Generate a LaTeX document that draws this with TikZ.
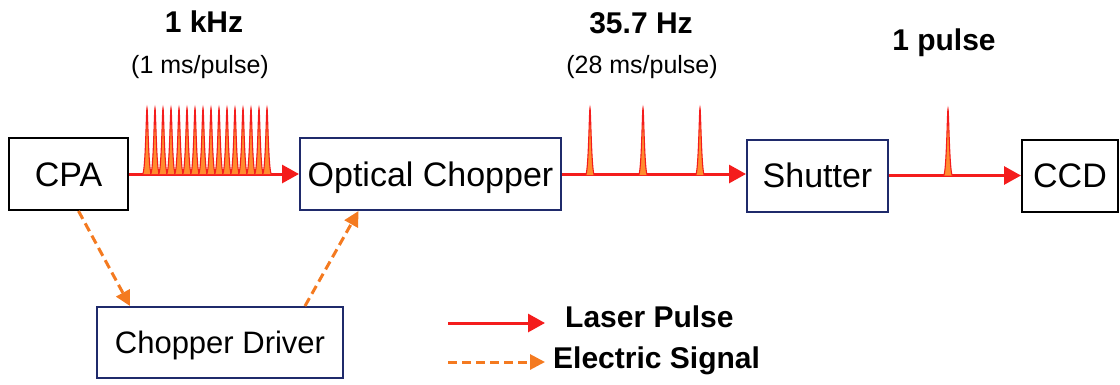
\documentclass[tikz,border=0pt]{standalone}
\usepackage{fontspec}
\setmainfont{Liberation Sans}
\usepackage{xcolor}
\usepackage{tikz}
\usetikzlibrary{positioning,arrows.meta,calc}

\definecolor{laserred}{HTML}{F41C1C}
\definecolor{pulsefill}{HTML}{FF8C2E}
\definecolor{sigorange}{HTML}{F47A20}
\definecolor{boxblue}{HTML}{1F2A6B}

% one spike of the pulse train: x, base line, top
\newcommand{\lpulse}[3]{%
  \filldraw[laserred, fill=pulsefill, line width=1.1pt]
    (#1-4.5,#2) .. controls (#1-1.5,#2) and (#1-0.7,#3) .. (#1,#3)
    .. controls (#1+0.7,#3) and (#1+1.5,#2) .. (#1+4.5,#2);}

\begin{document}
\begin{tikzpicture}[
    x=1pt, y=-1pt,
    box/.style={rectangle, draw, line width=2pt, minimum height=72pt, inner sep=0pt, text height=24pt, text depth=0pt, font=\fontsize{34}{40}\selectfont},
    bluebox/.style={box, draw=boxblue},
    rate/.style={font=\bfseries\fontsize{30}{36}\selectfont, anchor=base, inner sep=0pt},
    period/.style={font=\fontsize{25}{30}\selectfont, anchor=base, inner sep=0pt},
    legend/.style={font=\bfseries\fontsize{30}{36}\selectfont, anchor=base west, inner sep=0pt},
    beam/.style={-{Triangle[length=17pt,width=18pt]}, laserred, line width=3pt},
    signal/.style={-{Triangle[length=15pt,width=15pt]}, sigorange, line width=3pt, dash pattern=on 9pt off 5pt}
]
\useasboundingbox (0,0) rectangle (1120,384);

% Top row: laser path
\node[box, minimum width=119pt] (cpa) at (68.5,174) {CPA};
\node[bluebox, minimum width=261pt, right=170pt of cpa] (chopper) {Optical Chopper};
\node[bluebox, minimum width=141pt, right=184pt of chopper, yshift=-1.5pt] (shutter) {Shutter};
\node[box, minimum width=96pt, right=132pt of shutter] (ccd) {CCD};

\draw[beam] (cpa.east) -- (chopper.west);
\draw[beam] (chopper.east) -- (chopper.east -| shutter.west);
\draw[beam] (shutter.east) -- (shutter.east -| ccd.west);

% Pulse trains
\foreach \x in {147,155,...,267} {\lpulse{\x}{174}{108}}
\foreach \x in {590,643,700} {\lpulse{\x}{175}{108}}
\lpulse{948}{175.5}{109}

% Repetition rates
\node[rate] (rateA) at (204,32) {1 kHz};
\node[period] (perA) at (200,73) {(1 ms/pulse)};
\node[rate] (rateB) at (641,33) {35.7 Hz};
\node[period] (perB) at (642,73) {(28 ms/pulse)};
\node[rate] (rateC) at (944,50) {1 pulse};

% Chopper driver
\node[bluebox, minimum width=246pt, minimum height=71pt, text height=22pt, font=\fontsize{31}{37}\selectfont] (driver) at (220,342.5) {Chopper Driver};

\draw[signal] ([xshift=10pt]cpa.south) -- ([xshift=-90pt]driver.north);
\draw[signal] ([xshift=85pt]driver.north) -- ([xshift=-72pt]chopper.south);

% Legend
\node[legend] (lglaser) at (565,327) {Laser Pulse};
\node[legend] (lgsignal) at (553,368) {Electric Signal};
\coordinate (lgA) at (448,323);
\coordinate (lgB) at (448,362);
\draw[beam, shorten >=20pt] (lgA) -- (lgA -| lglaser.west);
\draw[signal, shorten >=8pt] (lgB) -- (lgB -| lgsignal.west);

\end{tikzpicture}
\end{document}
